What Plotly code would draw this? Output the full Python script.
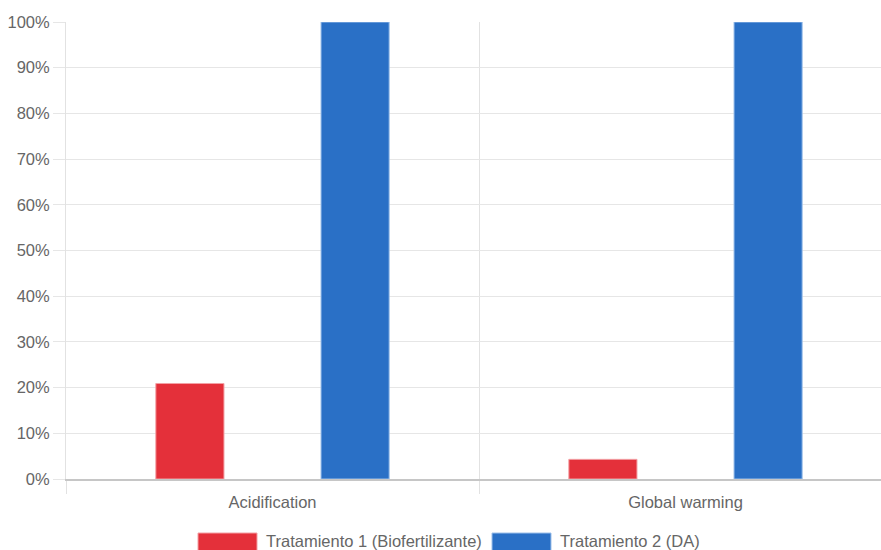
import plotly.graph_objects as go

categories = ["Acidification", "Global warming"]
series_names = ["Tratamiento 1 (Biofertilizante)", "Tratamiento 2 (DA)"]
series_values = [
    [20.9, 4.3],
    [100, 100],
]
series_colors = ["#e4303a", "#2a70c6"]
border_colors = ["#f3a0a4", "#9dc0ea"]
y_ticks = [0, 10, 20, 30, 40, 50, 60, 70, 80, 90, 100]
y_tick_labels = [f"{v}%" for v in y_ticks]

W, H = 881, 550
ML, MR, MT, MB = 66, 0, 22, 71
FONT = "Liberation Sans, Arial, sans-serif"
TXT = "#666666"
FS = 16.5

bar_w = 0.165
offsets = [-0.2 - bar_w / 2, 0.2 - bar_w / 2]

fig = go.Figure()
for name, vals, col, bcol, off in zip(series_names, series_values, series_colors, border_colors, offsets):
    fig.add_trace(go.Bar(
        x=categories, y=vals, name=name,
        width=bar_w, offset=off,
        marker=dict(color=col, line=dict(color=bcol, width=1)),
        showlegend=False,
    ))

fig.update_layout(
    width=W, height=H,
    margin=dict(l=ML, r=MR, t=MT, b=MB),
    paper_bgcolor="white", plot_bgcolor="white",
    font=dict(family=FONT, size=FS, color=TXT),
    barmode="overlay",
)
fig.update_xaxes(
    type="category",
    range=[-0.5, 1.5 - 11 / 413],
    tickson="boundaries",
    ticks="outside", ticklen=13, tickcolor="#e2e2e2", tickwidth=1,
    ticklabelstandoff=7,
    showgrid=True, gridcolor="#e2e2e2", gridwidth=1,
    showline=True, linecolor="#c6c6c6", linewidth=2,
    tickfont=dict(family=FONT, size=FS, color=TXT),
)
fig.update_yaxes(
    range=[0, 100],
    tickvals=y_ticks, ticktext=y_tick_labels,
    ticks="outside", ticklen=12, tickcolor="#e6e6e6",
    showgrid=True, gridcolor="#e6e6e6", gridwidth=1,
    zeroline=False,
    showline=True, linecolor="#e2e2e2", linewidth=1,
    tickfont=dict(family=FONT, size=FS, color=TXT),
)

# Custom legend (large swatches) below the chart
pw = W - ML - MR
ph = H - MT - MB
def px2x(px):
    return (px - ML) / pw
def py2y(py):
    return (H - MB - py) / ph

legend_x = [198, 492]
for i, (name, col) in enumerate(zip(series_names, series_colors)):
    x0 = legend_x[i]
    fig.add_shape(type="rect", xref="paper", yref="paper",
                  x0=px2x(x0), x1=px2x(x0 + 59), y0=py2y(551), y1=py2y(533),
                  fillcolor=col, line=dict(color=border_colors[i], width=1), layer="above")
    fig.add_annotation(xref="paper", yref="paper", x=px2x(x0 + 66), y=py2y(540.5),
                       text=name, showarrow=False, xanchor="left", yanchor="middle",
                       font=dict(family=FONT, size=FS, color=TXT))

fig.write_html("out.html")
